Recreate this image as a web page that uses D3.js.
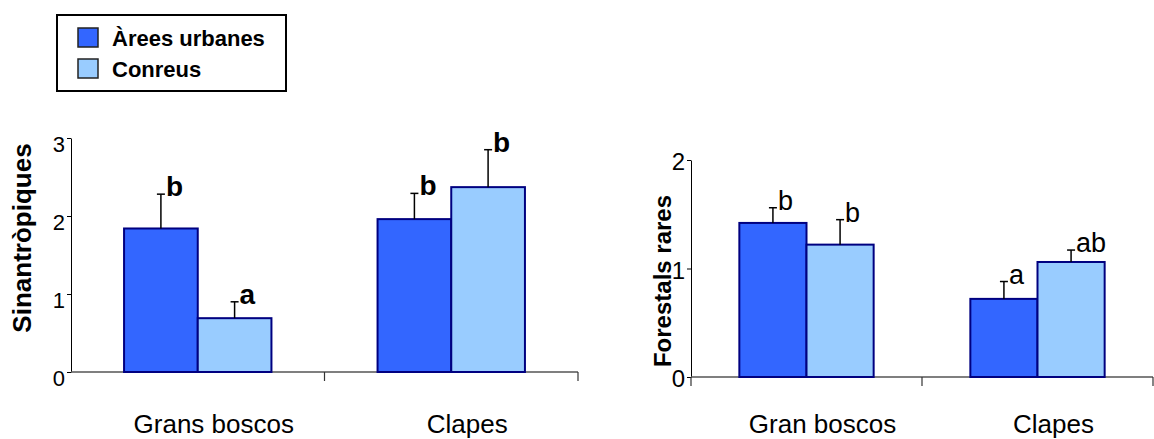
<!DOCTYPE html>
<html>
<head>
<meta charset="utf-8">
<script src="https://cdn.jsdelivr.net/npm/d3@7"></script>
<style>
  body { margin: 0; background: #fff; }
  svg { display: block; font-family: "Liberation Sans", Arial, sans-serif; }
</style>
</head>
<body>
<div id="chart"></div>
<script>
// data
var series = ["Àrees urbanes", "Conreus"];
var seriesColors = ["#3366ff", "#99ccff"];

var leftCategories = ["Grans boscos", "Clapes"];
var leftMeans = [[1.84, 0.69], [1.96, 2.37]];
var leftErrors = [[0.44, 0.21], [0.33, 0.48]];
var leftLetters = [["b", "a"], ["b", "b"]];
var leftTicks = [0, 1, 2, 3];

var rightCategories = ["Gran boscos", "Clapes"];
var rightMeans = [[1.42, 1.22], [0.72, 1.06]];
var rightErrors = [[0.14, 0.23], [0.16, 0.11]];
var rightLetters = [["b", "b"], ["a", "ab"]];
var rightTicks = [0, 1, 2];

var width = 1154, height = 439;

var svg = d3.select("#chart").append("svg")
    .attr("width", width)
    .attr("height", height);

function drawPanel(o) {
	var g = svg.append("g");

	var x0 = d3.scaleBand()
	    .domain(o.categories)
	    .range([o.left, o.right]);

	var x1 = d3.scaleBand()
	    .domain(series)
	    .range([0, x0.bandwidth()])
	    .paddingOuter(0.72);

	var y = d3.scaleLinear()
	    .domain([0, d3.max(o.ticks)])
	    .range([o.bottom, o.top]);

	// y axis
	var yAxis = g.append("g")
	    .attr("transform", "translate(" + o.left + ",0)")
	    .call(d3.axisLeft(y).tickValues(o.ticks).tickFormat(d3.format("d"))
	        .tickSize(4).tickSizeOuter(0).tickPadding(2));
	yAxis.selectAll("path, line").style("stroke", "#000");
	yAxis.selectAll("text")
	    .style("font-size", o.tickFont + "px")
	    .style("font-family", "inherit")
	    .style("fill", "#000")
	    .attr("dy", o.tickDy);

	// x axis line with ticks between categories
	g.append("line")
	    .attr("x1", o.left).attr("x2", o.right)
	    .attr("y1", y(0)).attr("y2", y(0))
	    .style("stroke", "#555")
	    .style("stroke-width", 1.5);

	var tickXs = o.categories.map(function(c) { return x0(c) + x0.bandwidth(); });
	if (o.startTick) tickXs.unshift(o.left);
	g.selectAll(".xtick")
	    .data(tickXs)
	    .enter().append("line")
	    .attr("class", "xtick")
	    .attr("x1", function(d) { return d; })
	    .attr("x2", function(d) { return d; })
	    .attr("y1", y(0))
	    .attr("y2", y(0) + 9)
	    .style("stroke", "#333")
	    .style("stroke-width", 1.2);

	g.selectAll(".xlabel")
	    .data(o.categories)
	    .enter().append("text")
	    .attr("class", "xlabel")
	    .attr("x", function(d) { return x0(d) + x0.bandwidth() / 2 + 16; })
	    .attr("y", 433)
	    .attr("text-anchor", "middle")
	    .style("font-size", "26px")
	    .text(function(d) { return d; });

	// y title
	g.append("text")
	    .attr("transform", "translate(" + o.titleX + "," + o.titleY + ") rotate(-90)")
	    .attr("text-anchor", "middle")
	    .style("font-size", o.titleFont + "px")
	    .style("font-weight", "bold")
	    .text(o.title);

	var groups = g.selectAll(".group")
	    .data(o.means)
	    .enter().append("g")
	    .attr("class", "group")
	    .attr("transform", function(d, i) { return "translate(" + x0(o.categories[i]) + ",0)"; });

	var cells = groups.selectAll(".bar")
	    .data(function(d, i) {
	        return d.map(function(v, j) {
	            return { s: series[j], j: j, v: v, e: o.errors[i][j], l: o.letters[i][j] };
	        });
	    })
	    .enter().append("g")
	    .attr("class", "bar");

	cells.append("rect")
	    .attr("x", function(d) { return x1(d.s); })
	    .attr("y", function(d) { return y(d.v); })
	    .attr("width", x1.bandwidth())
	    .attr("height", function(d) { return y(0) - y(d.v); })
	    .style("fill", function(d) { return seriesColors[d.j]; })
	    .style("stroke", "#000080")
	    .style("stroke-width", 2);

	var cx = function(d) { return x1(d.s) + x1.bandwidth() / 2; };

	cells.append("line")
	    .attr("x1", cx).attr("x2", cx)
	    .attr("y1", function(d) { return y(d.v); })
	    .attr("y2", function(d) { return y(d.v + d.e); })
	    .style("stroke", "#000")
	    .style("stroke-width", 1.5);

	cells.append("line")
	    .attr("x1", function(d) { return cx(d) - 4; })
	    .attr("x2", function(d) { return cx(d) + 4; })
	    .attr("y1", function(d) { return y(d.v + d.e); })
	    .attr("y2", function(d) { return y(d.v + d.e); })
	    .style("stroke", "#000")
	    .style("stroke-width", 1.5);

	cells.append("text")
	    .attr("x", function(d) { return cx(d) + 5; })
	    .attr("y", function(d) { return y(d.v + d.e) + 2; })
	    .style("font-size", o.letterFont + "px")
	    .style("font-weight", o.letterWeight)
	    .text(function(d) { return d.l; });
}

drawPanel({
	categories: leftCategories, means: leftMeans, errors: leftErrors, letters: leftLetters,
	ticks: leftTicks, left: 71, right: 578, top: 138, bottom: 372,
	tickFont: 22, tickDy: "0.62em", startTick: false,
	title: "Sinantròpiques", titleX: 31, titleY: 238, titleFont: 26,
	letterFont: 28, letterWeight: "bold"
});

drawPanel({
	categories: rightCategories, means: rightMeans, errors: rightErrors, letters: rightLetters,
	ticks: rightTicks, left: 691, right: 1153, top: 160, bottom: 377,
	tickFont: 24, tickDy: "0.4em", startTick: true,
	title: "Forestals rares", titleX: 671, titleY: 281, titleFont: 24,
	letterFont: 27, letterWeight: "normal"
});

// legend
var legend = svg.append("g").attr("class", "legend");

legend.append("rect")
    .attr("x", 57).attr("y", 15)
    .attr("width", 229).attr("height", 76)
    .style("fill", "#fff")
    .style("stroke", "#000")
    .style("stroke-width", 2);

var items = legend.selectAll(".item")
    .data(series)
    .enter().append("g")
    .attr("class", "item")
    .attr("transform", function(d, i) { return "translate(78," + (28 + i * 31) + ")"; });

items.append("rect")
    .attr("width", 20)
    .attr("height", 19)
    .style("fill", function(d, i) { return seriesColors[i]; })
    .style("stroke", "#222")
    .style("stroke-width", 1.5);

items.append("text")
    .attr("x", 34)
    .attr("y", 18)
    .style("font-size", "22px")
    .style("font-weight", "bold")
    .text(function(d) { return d; });
</script>
</body>
</html>
